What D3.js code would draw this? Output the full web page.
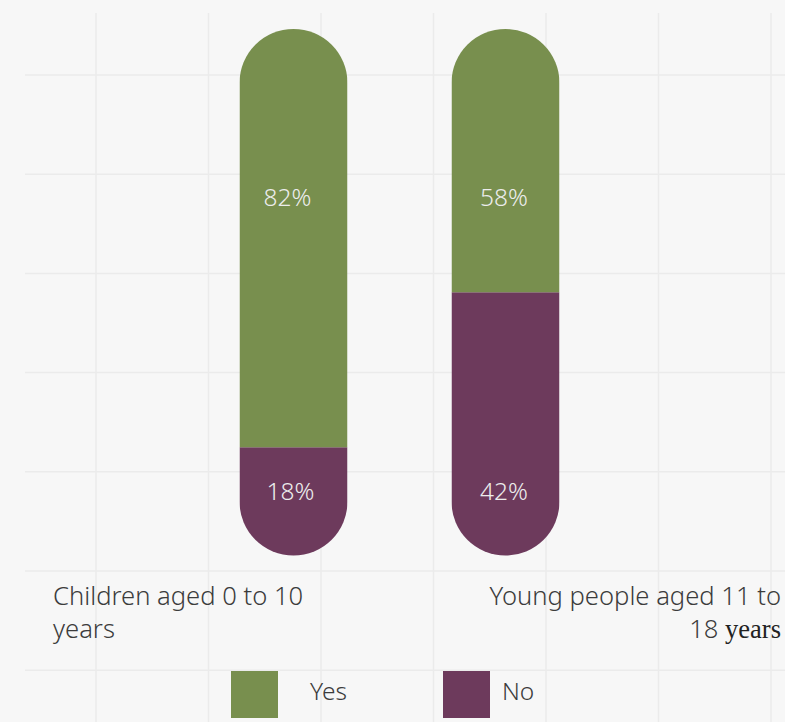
<!DOCTYPE html>
<html>
<head>
<meta charset="utf-8">
<script src="https://cdn.jsdelivr.net/npm/d3@7"></script>
<style>
  html, body { margin: 0; padding: 0; background: #f7f7f7; }
  svg { display: block; }
</style>
</head>
<body>
<svg id="chart" width="785" height="722"></svg>
<script>
// Survey answers by age group (percent)
const categories = ["Children aged 0 to 10 years", "Young people aged 11 to 18 years"];
const seriesNames = ["Yes", "No"];
const yesValues = [82, 58];
const noValues = [18, 42];
const colors = ["#788f4e", "#6d3a5c"];

const W = 785, H = 722;
const svg = d3.select("#chart");
const font = "'Noto Sans', 'Open Sans', sans-serif";

// background grid
const grid = svg.append("g");
const xs = d3.range(7).map(i => 96 + i * 112.5);
const ys = d3.range(7).map(i => 75 + i * 99.2);
grid.selectAll("line.v").data(xs).join("line")
  .attr("x1", d => d).attr("x2", d => d)
  .attr("y1", 13).attr("y2", H)
  .attr("stroke", "#ebebeb").attr("stroke-width", 1.5);
grid.selectAll("line.h").data(ys).join("line")
  .attr("x1", 25).attr("x2", W)
  .attr("y1", d => d).attr("y2", d => d)
  .attr("stroke", "#ebebeb").attr("stroke-width", 1.5);

// scales
const x = d3.scalePoint().domain(categories).range([293.5, 505.5]);
const barW = 108;
const y = d3.scaleLinear().domain([0, 100]).range([563.5, -82.3]);

// stacked layout: No at the bottom, Yes on top
const table = categories.map((c, i) => ({ cat: c, Yes: yesValues[i], No: noValues[i] }));
const stack = d3.stack().keys(["No", "Yes"])(table);

// pill-shaped clip for each bar
const pillTop = 29, pillBottom = 555.5;
const defs = svg.append("defs");
categories.forEach((c, i) => {
  defs.append("clipPath").attr("id", "pill" + i)
    .append("rect")
    .attr("x", x(c) - barW / 2).attr("y", pillTop)
    .attr("width", barW).attr("height", pillBottom - pillTop)
    .attr("rx", barW / 2).attr("ry", barW / 2);
});

const bars = svg.append("g");
stack.forEach(layer => {
  const col = colors[seriesNames.indexOf(layer.key)];
  layer.forEach((d, i) => {
    bars.append("rect")
      .attr("clip-path", `url(#pill${i})`)
      .attr("x", x(d.data.cat) - barW / 2)
      .attr("width", barW)
      .attr("y", y(d[1]))
      .attr("height", y(d[0]) - y(d[1]))
      .attr("fill", col);
  });
});

// value labels inside the bars
const labelY = { Yes: 196, No: 490 };
const labelDx = [-6, -1.5];
const vals = svg.append("g")
  .attr("font-family", font).attr("font-weight", 300)
  .attr("font-size", 24.5).attr("fill", "#ececec")
  .attr("text-anchor", "middle").attr("dominant-baseline", "central");
categories.forEach((c, i) => {
  vals.append("text").attr("x", x(c) + labelDx[i]).attr("y", labelY.Yes).text(yesValues[i] + "%");
  vals.append("text").attr("x", x(c) + labelDx[i] + (i === 0 ? 3 : 0)).attr("y", labelY.No).text(noValues[i] + "%");
});

// category labels (wrapped over two lines)
const catG = svg.append("g")
  .attr("font-family", font).attr("font-weight", 300)
  .attr("font-size", 25.6).attr("fill", "#3c3c3c");
const c0 = catG.append("text").attr("x", 53).attr("y", 605).attr("text-anchor", "start");
c0.append("tspan").attr("x", 53).attr("dy", 0).text("Children aged 0 to 10");
c0.append("tspan").attr("x", 53).attr("dy", 33).text("years");

const c1 = catG.append("text").attr("x", 781).attr("y", 605).attr("text-anchor", "end");
c1.append("tspan").attr("x", 781).attr("dy", 0).text("Young people aged 11 to");
const l2 = c1.append("tspan").attr("x", 781).attr("dy", 33);
l2.append("tspan").text("18 ");
l2.append("tspan").attr("font-family", "'Liberation Serif', 'DejaVu Serif', serif")
  .attr("font-size", 26.5).attr("font-weight", 400).attr("fill", "#222").text("years");

// legend
const legend = svg.append("g")
  .attr("font-family", font).attr("font-weight", 300)
  .attr("font-size", 24.5).attr("fill", "#3c3c3c");
const legendX = [231, 443];
seriesNames.forEach((s, i) => {
  legend.append("rect").attr("x", legendX[i]).attr("y", 671)
    .attr("width", 47).attr("height", 47).attr("fill", colors[i]);
  legend.append("text").attr("x", legendX[i] + (i === 0 ? 79 : 59)).attr("y", 690)
    .attr("dominant-baseline", "central").text(s);
});
</script>
</body>
</html>
